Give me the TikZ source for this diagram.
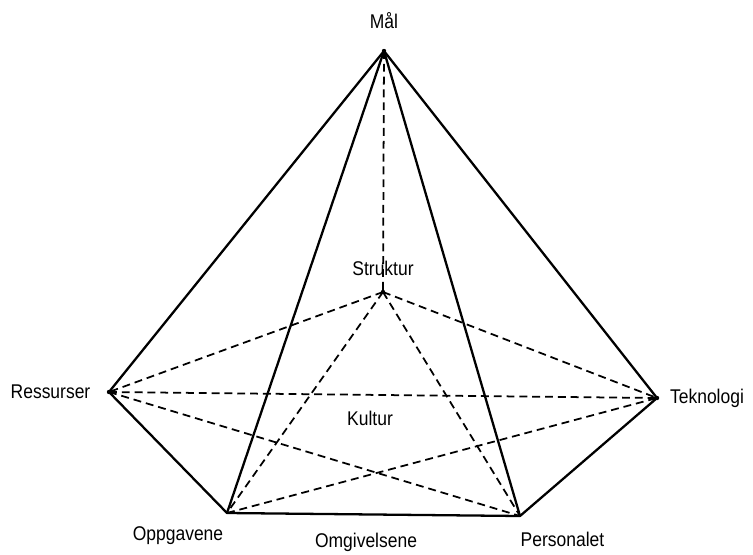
\documentclass[tikz,border=0pt]{standalone}
\usepackage{fontspec}
\setmainfont{Liberation Sans}[FakeStretch=0.88]
\usepackage{tikz}

\begin{document}
\begin{tikzpicture}[x=0.02cm, y=-0.02cm,
    edge/.style={line width=1.3pt, line join=round},
    hidden/.style={line width=1pt, dash pattern=on 4.5pt off 2.8pt},
    lbl/.style={inner sep=0pt, font=\fontsize{11.3}{13}\selectfont}]
  \useasboundingbox (0,0) rectangle (753,554);
  \coordinate (m) at (384, 51);
  \coordinate (s) at (383, 292);
  \coordinate (r) at (109, 392);
  \coordinate (t) at (657, 398);
  \coordinate (o) at (227, 513);
  \coordinate (p) at (520, 516);
  \node[lbl] (mal) at (384, 20.5) {Mål};
  \node[lbl] (struktur) at (383, 268.5) {Struktur};
  \node[lbl] (ressurser) at (50.5, 392) {Ressurser};
  \node[lbl] (teknologi) at (707, 398.5) {Teknologi};
  \node[lbl] (kultur) at (370, 418.5) {Kultur};
  \node[lbl] (oppgavene) at (178, 536) {Oppgavene};
  \node[lbl] (omgivelsene) at (366, 542) {Omgivelsene};
  \node[lbl] (personalet) at (562.5, 539) {Personalet};
  \draw[hidden] (m) -- (s);
  \draw[hidden] (s) -- (r);
  \draw[hidden] (s) -- (t);
  \draw[hidden] (s) -- (o);
  \draw[hidden] (s) -- (p);
  \draw[hidden] (r) -- (t);
  \draw[hidden] (r) -- (p);
  \draw[hidden] (o) -- (t);
  \draw[edge] (m) -- (r);
  \draw[edge] (m) -- (o);
  \draw[edge] (m) -- (p);
  \draw[edge] (m) -- (t);
  \draw[edge] (r) -- (o) -- (p) -- (t);
  \fill (r) circle (2.2);
  \fill (t) circle (2.2);
  \fill (s) circle (2.2);
  \fill (m) circle (2.2);
\end{tikzpicture}
\end{document}
